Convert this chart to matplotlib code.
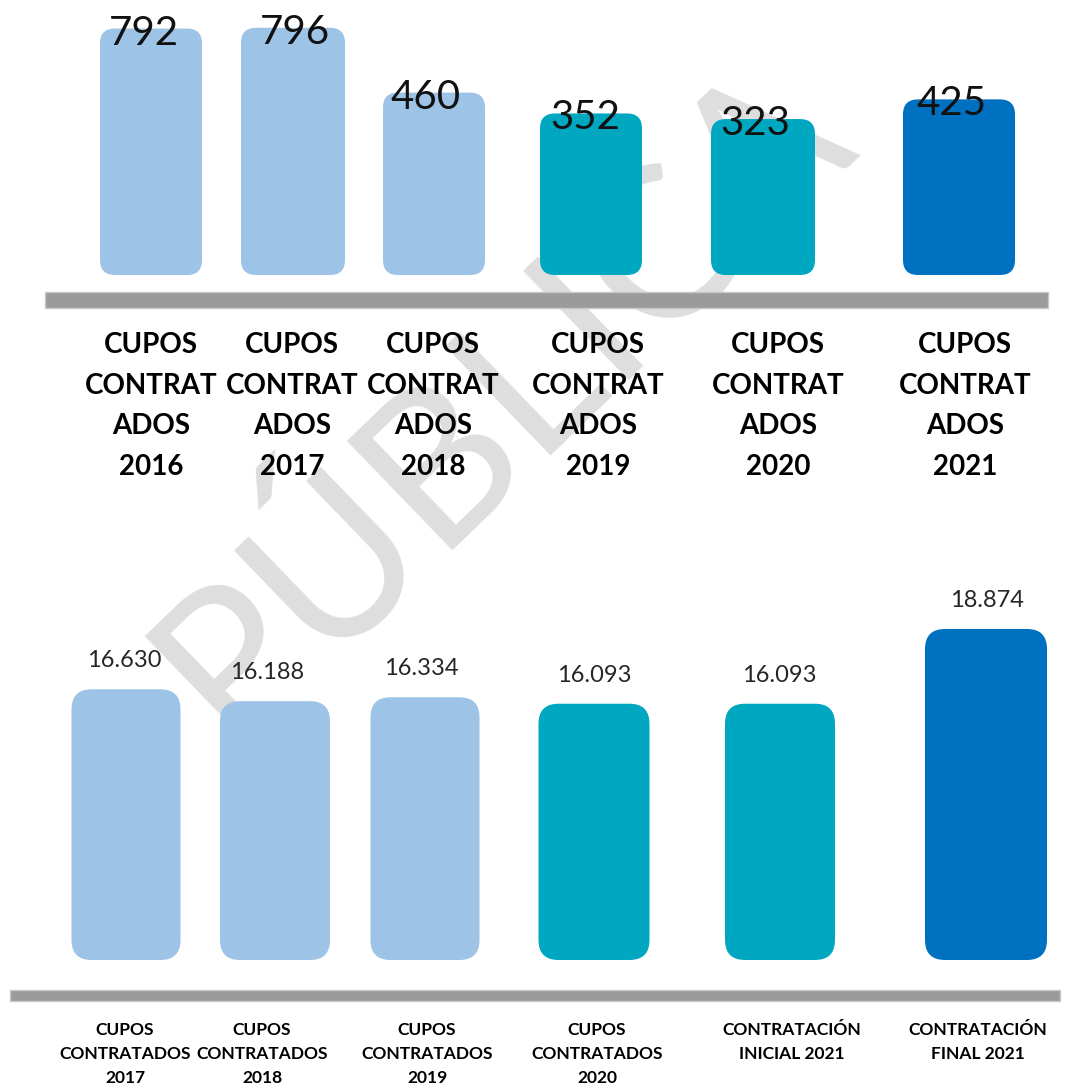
import matplotlib
matplotlib.use("Agg")
import matplotlib.pyplot as plt
from matplotlib.patches import FancyBboxPatch, Rectangle

# data
top_labels = ["CUPOS\nCONTRAT\nADOS\n2016", "CUPOS\nCONTRAT\nADOS\n2017",
              "CUPOS\nCONTRAT\nADOS\n2018", "CUPOS\nCONTRAT\nADOS\n2019",
              "CUPOS\nCONTRAT\nADOS\n2020", "CUPOS\nCONTRAT\nADOS\n2021"]
top_values = [792, 796, 460, 352, 323, 425]

bottom_labels = ["CUPOS\nCONTRATADOS\n2017", "CUPOS\nCONTRATADOS\n2018",
                 "CUPOS\nCONTRATADOS\n2019", "CUPOS\nCONTRATADOS\n2020",
                 "CONTRATACIÓN\nINICIAL 2021", "CONTRATACIÓN\nFINAL 2021"]
bottom_values = [16630, 16188, 16334, 16093, 16093, 18874]

# layout (pixels)
W, H = 1074, 1089
top_x = [151, 293, 434, 591, 763, 959]
top_w = [102, 104, 102, 102, 104, 112]
top_lab_x = [151, 292, 433, 598, 778, 965]
top_val_x = [144, 295, 426, 585, 755, 952]
bot_x = [126, 275, 425, 594, 780, 986]
bot_w = [109, 110, 109, 111, 110, 122]
bot_lab_x = [125, 262, 427, 597, 792, 978]
bot_val_x = [124, 267, 421, 594, 779, 987]

light = "#9DC3E6"
teal = "#00A7C1"
dark = "#0070C0"
top_colors = [light, light, light, teal, teal, dark]
bot_colors = [light, light, light, teal, teal, dark]

plt.rcParams["font.family"] = ["Lato", "DejaVu Sans"]

fig = plt.figure(figsize=(W / 100, H / 100), dpi=100)
fig.patch.set_facecolor("white")

# watermark behind everything
fig.text(500 / W, 1 - 398 / H, "PÚBLICA", fontsize=152, color="#dedede",
         rotation=44, ha="center", va="center", rotation_mode="anchor",
         zorder=-5)


def rounded_bars(ax, xs, ws, vals, base, colors, r, px_per_unit):
    asp = 1.0 / px_per_unit
    for x, w, v, c in zip(xs, ws, vals, colors):
        p = FancyBboxPatch((x - w / 2, base), w, v - base,
                           boxstyle=f"round,pad=0,rounding_size={r}",
                           mutation_aspect=asp, facecolor=c, edgecolor="none")
        ax.add_patch(p)


# top panel: rows 0..275 px, bar base at 275
top_base, top_scale = -485, 0.193
ax1 = fig.add_axes([0, 1 - 275 / H, 1, 275 / H])
ax1.set_xlim(0, W)
ax1.set_ylim(top_base, top_base + 275 / top_scale)
ax1.axis("off")
rounded_bars(ax1, top_x, top_w, top_values, top_base, top_colors, 15, top_scale)
for xv, v in zip(top_val_x, top_values):
    ax1.annotate(str(v), (xv, v), xytext=(0, -16), textcoords="offset pixels",
                 ha="center", va="baseline", fontsize=29, color="#111111",
                 annotation_clip=False)
for xl, lab in zip(top_lab_x, top_labels):
    ax1.annotate(lab, (xl, top_base), xytext=(0, -57), textcoords="offset pixels",
                 ha="center", va="top", fontsize=20, fontweight="bold",
                 linespacing=1.7, color="black", annotation_clip=False)

# bottom panel: rows 560..960 px, bar base at 960
bot_base, bot_scale = 6559, 0.02688
ax2 = fig.add_axes([0, 1 - 960 / H, 1, 400 / H])
ax2.set_xlim(0, W)
ax2.set_ylim(bot_base, bot_base + 400 / bot_scale)
ax2.axis("off")
rounded_bars(ax2, bot_x, bot_w, bottom_values, bot_base, bot_colors, 20, bot_scale)
for xv, v in zip(bot_val_x, bottom_values):
    ax2.annotate(f"{v:,}".replace(",", "."), (xv, v), xytext=(0, 18),
                 textcoords="offset pixels", ha="center", va="bottom",
                 fontsize=17, color="#262626", annotation_clip=False)
for xl, lab in zip(bot_lab_x, bottom_labels):
    ax2.annotate(lab, (xl, bot_base), xytext=(0, -62), textcoords="offset pixels",
                 ha="center", va="top", fontsize=12.5, fontweight="bold",
                 linespacing=1.6, color="black", annotation_clip=False)

# gray baselines
fig.add_artist(Rectangle((45 / W, 1 - 308 / H), (1048 - 45) / W, 16 / H,
                         transform=fig.transFigure, facecolor="#9b9b9b",
                         edgecolor="#c8c8c8", linewidth=1))
fig.add_artist(Rectangle((10 / W, 1 - 1001 / H), (1060 - 10) / W, 11 / H,
                         transform=fig.transFigure, facecolor="#9b9b9b",
                         edgecolor="#c8c8c8", linewidth=1))

fig.savefig("out.png", dpi=100, facecolor="white")
